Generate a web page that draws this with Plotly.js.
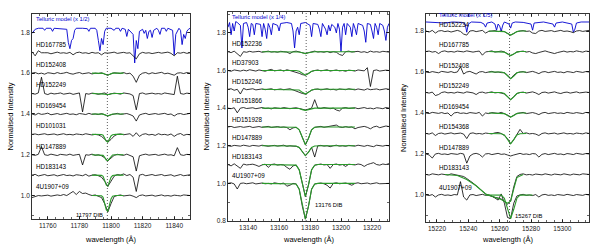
<!DOCTYPE html>
<html><head><meta charset="utf-8">
<script src="https://cdn.plot.ly/plotly-3.0.1.min.js"></script>
<style>html,body{margin:0;padding:0;background:#fff}</style>
</head><body><div id="chart" style="width:600px;height:246px"></div>
<script>
// ---------------- Panel 1 : 11797 DIB ----------------
const p1Wave = [11750,11752,11754,11756,11758,11760,11762,11764,11766,11768,
 11770,11772,11774,11776,11778,11780,11782,11784,11786,11788,
 11790,11792,11794,11796,11798,11800,11802,11804,11806,11808,
 11810,11812,11814,11816,11818,11820,11822,11824,11826,11828,
 11830,11832,11834,11836,11838,11840,11842,11844,11846,11848,
 11850];
const p1Names = ['HD167785','HD152408','HD152249','HD169454','HD101031','HD147889','HD183143','4U1907+09'];
const p1Offsets = [0.7,0.6,0.5,0.4,0.3,0.2,0.1,0.0];
const p1Star1 = [1.005,0.985,1.01,1.0,1.0,1.0,0.995,1.0,1.003,0.998,
 1.0,0.997,1.002,0.99,1.0,1.003,0.998,1.0,0.996,1.002,
 0.998,1.0,0.99,1.0,0.998,1.0,1.003,0.997,1.0,1.002,
 0.998,1.0,0.985,0.97,0.995,1.002,0.998,1.0,0.996,1.0,
 1.002,0.998,1.0,1.003,0.997,0.985,1.0,0.998,1.002,0.997,1.0];
const p1Star2 = [1.0,1.003,0.997,1.0,0.995,1.002,1.0,0.997,1.003,0.998,
 1.0,1.004,0.998,0.995,1.0,1.003,0.997,1.0,1.002,0.996,
 1.0,0.998,1.002,0.995,0.99,0.997,1.002,1.0,0.998,1.003,
 0.997,1.0,0.985,0.955,0.99,1.0,1.003,0.996,1.002,0.998,
 1.0,1.004,0.997,1.0,0.995,0.99,1.0,1.002,0.998,1.003,1.0];
const p1Star3 = [1.0,0.997,1.003,1.08,1.0,0.995,1.002,0.998,1.0,1.003,
 0.997,1.0,1.002,0.996,1.0,1.003,0.91,1.0,0.997,1.002,
 1.0,0.996,1.0,1.003,0.995,0.998,1.002,1.0,0.997,1.003,
 1.0,0.998,0.99,0.92,1.0,1.003,0.997,1.0,1.002,0.998,
 1.0,0.997,1.003,1.0,0.998,0.995,1.085,1.0,0.997,1.002,1.0];
const p1Star4 = [1.0,0.995,1.003,0.998,1.0,1.004,0.996,1.0,1.002,0.997,
 1.0,1.003,0.998,1.0,0.996,1.002,1.0,0.997,1.003,0.998,
 1.0,0.997,1.002,0.995,0.99,0.996,1.0,1.003,0.998,1.0,
 1.002,0.997,0.99,0.965,0.995,1.0,1.003,0.997,1.0,1.002,
 0.998,1.0,1.003,0.997,1.0,0.99,1.0,1.002,0.997,1.0,1.003];
const p1Star5 = [1.0,1.002,0.998,1.0,1.003,0.998,1.0,1.002,0.997,1.0,
 1.003,0.998,1.0,0.997,1.002,1.0,0.998,1.003,1.0,0.997,
 1.0,0.997,0.99,0.975,0.962,0.975,0.992,1.0,1.002,0.998,
 1.0,1.003,0.99,1.008,0.99,1.0,1.003,0.997,1.0,0.995,
 1.003,0.998,1.0,0.996,1.002,0.99,1.0,1.004,0.995,1.0,0.998];
const p1Star6 = [1.0,0.997,1.002,1.04,1.0,0.997,1.003,1.0,0.996,1.002,
 1.0,0.998,1.003,0.997,1.0,1.002,0.95,1.0,0.998,1.003,
 0.997,1.0,0.995,0.985,0.97,0.985,0.997,1.002,1.0,0.997,
 1.003,0.998,0.99,0.92,0.995,1.0,1.003,0.998,1.0,1.002,
 0.997,1.0,1.003,0.998,1.0,0.995,1.035,1.0,0.997,1.002,1.0];
const p1Star7 = [1.0,1.004,0.996,1.0,1.003,0.997,1.0,1.002,0.996,1.0,
 1.003,0.998,1.0,0.996,1.002,1.0,0.997,1.004,0.995,1.0,
 1.002,0.997,0.99,0.97,0.945,0.97,0.995,1.003,1.0,1.006,
 0.998,1.003,0.99,0.92,1.0,1.004,0.997,1.0,1.003,0.998,
 1.0,1.003,0.997,1.0,1.002,0.995,1.0,1.003,0.997,1.0,1.002];
const p1Star8 = [0.99,0.995,1.0,0.998,1.0,1.002,0.997,1.0,1.003,1.0,
 1.005,1.0,1.01,1.02,1.005,1.02,1.01,1.012,1.005,1.0,
 1.003,0.998,0.99,0.96,0.92,0.96,0.995,1.0,1.003,0.998,
 1.0,1.002,0.997,0.99,1.0,1.003,0.998,1.0,1.002,0.997,
 1.0,1.003,0.998,1.0,0.997,1.002,1.0,0.998,1.003,1.0,1.0];
const p1TellWave = [11750,11751,11752,11754,11757,11758,11759,11762,11763,11764,
 11768,11772,11773,11774,11775,11776,11777,11778,11782,11785,
 11786,11787,11790,11791,11792,11793,11794,11795,11796,11797,
 11800,11802,11803,11805,11806,11807,11809,11810,11811,11813,
 11814,11815,11816,11817,11818,11820,11821,11822,11823,11824,
 11825,11826,11827,11829,11830,11831,11832,11834,11835,11836,
 11839,11840,11841,11843,11844,11845,11846,11847,11848,11849,
 11850];
const p1TellFlux = [0.975,0.985,0.995,1.0,1.0,0.99,1.0,1.0,0.985,1.0,
 0.998,0.995,0.93,0.90,0.94,0.95,0.99,1.0,1.0,0.998,
 0.985,1.0,1.0,0.99,0.94,0.89,0.95,0.92,0.985,1.0,
 1.0,0.99,1.0,1.0,0.985,1.0,0.995,0.96,0.995,0.98,
 0.97,0.83,0.94,0.90,0.985,0.995,0.975,0.99,0.95,0.985,
 0.99,0.955,0.99,1.0,0.99,0.97,1.0,1.0,0.985,1.0,
 0.99,0.87,0.97,1.0,0.99,0.92,0.97,0.95,0.985,0.995,
 1.0];
const p1TellOffset = 0.82;
const p1FitWave = [11788,11792,11794,11795,11796,11797,11798,11799,11800,11801,11803,11808];
const p1Fit2 = [1,1,1,0.999,0.996,0.991,0.99,0.994,0.998,1,1,1];
const p1Fit3 = [1,1,1,0.999,0.997,0.995,0.994,0.996,0.999,1,1,1];
const p1Fit4 = [1,1,1,0.999,0.996,0.991,0.99,0.994,0.998,1,1,1];
const p1Fit5 = [1,1,0.999,0.996,0.984,0.967,0.963,0.977,0.992,0.998,1,1];
const p1Fit6 = [1,1,1,0.997,0.987,0.974,0.971,0.982,0.994,0.999,1,1];
const p1Fit7 = [1,1,0.999,0.994,0.977,0.952,0.946,0.967,0.989,0.998,1,1];
const p1Fit8 = [1,1,0.999,0.991,0.966,0.931,0.922,0.951,0.983,0.997,1,1];

// ---------------- Panel 2 : 13176 DIB ----------------
const p2Wave = [13127,13129,13131,13133,13135,13137,13139,13141,13143,13145,
 13147,13149,13151,13153,13155,13157,13159,13161,13163,13165,
 13167,13169,13171,13173,13175,13177,13179,13181,13183,13185,
 13187,13189,13191,13193,13195,13197,13199,13201,13203,13205,
 13207,13209,13211,13213,13215,13217,13219,13221,13223,13225,
 13227,13229,13231];
const p2Names = ['HD152236','HD37903','HD152246','HD151866','HD151928','HD147889','HD183143','4U1907+09'];
const p2Offsets = [0.7,0.6,0.5,0.4,0.3,0.2,0.1,0.0];
const p2Star1 = [1.0,0.995,1.003,0.99,0.975,1.0,0.997,1.002,0.998,1.0,
 1.002,0.997,1.0,1.003,0.998,1.0,0.997,1.002,1.0,0.998,
 0.99,1.0,1.003,0.998,0.995,0.99,0.995,1.0,1.003,0.998,
 1.0,0.997,1.002,0.995,1.0,0.997,0.985,0.98,1.0,1.003,
 0.998,1.0,1.002,0.997,1.0,0.995,1.003,0.998,1.0,0.997,1.002,1.0,0.998];
const p2Star2 = [1.0,0.996,1.003,1.0,0.997,1.002,0.998,1.004,1.0,0.997,
 1.003,1.0,0.996,1.002,1.006,0.998,1.0,1.003,0.997,1.004,
 1.0,0.996,0.99,0.985,0.978,0.975,0.985,0.995,1.0,1.003,
 0.998,1.0,1.004,0.997,1.0,1.003,0.998,1.0,0.996,1.002,
 1.0,0.997,1.003,1.0,0.998,1.015,0.915,1.0,1.003,0.997,1.0,1.002,1.0];
const p2Star3 = [1.0,1.003,0.995,1.0,0.975,1.005,0.998,1.0,1.003,0.997,
 1.0,1.002,0.998,1.0,1.003,0.997,1.0,1.002,0.998,1.0,
 1.003,0.997,0.99,0.985,0.978,0.975,0.985,0.995,1.0,1.002,
 0.997,1.0,1.003,0.998,1.0,0.996,1.002,1.0,0.998,1.003,
 1.0,0.997,1.002,1.0,0.996,1.003,0.998,1.0,1.002,0.997,1.0,1.003,1.0];
const p2Star4 = [1.0,0.997,1.002,0.975,1.0,1.003,0.998,1.0,1.002,0.997,
 1.0,1.003,0.998,1.0,0.996,1.002,1.0,0.998,1.003,1.0,
 0.997,1.0,1.002,0.998,0.995,0.99,0.995,1.0,1.045,1.0,
 0.998,1.003,1.0,0.997,1.0,0.99,0.985,1.0,1.003,0.998,
 1.0,1.002,0.997,1.0,1.003,0.998,1.0,0.996,1.002,1.0,0.997,1.003,1.0];
const p2Star5 = [1.0,1.003,0.997,1.0,1.002,0.998,1.0,1.003,0.997,1.0,
 1.002,0.998,1.0,1.003,0.997,1.0,1.002,0.998,1.0,0.997,
 0.985,0.995,0.998,0.985,0.94,0.905,0.94,0.985,0.998,1.0,
 1.003,0.998,1.0,1.002,1.006,1.01,1.0,0.997,1.002,0.998,
 1.0,0.99,0.997,1.0,1.003,0.998,0.99,1.0,1.004,0.996,1.0,1.005,1.002];
const p2Star6 = [1.0,0.997,1.002,1.0,0.998,1.003,1.0,0.997,1.002,1.0,
 0.998,1.003,1.0,0.997,1.0,1.002,0.998,1.0,1.003,0.997,
 1.0,0.998,0.997,0.991,0.966,0.947,0.966,0.991,0.94,1.0,
 1.002,0.998,1.0,0.995,1.0,1.003,0.998,1.0,0.997,1.002,
 1.0,0.998,1.003,1.0,0.997,1.002,1.0,0.995,1.003,1.0,0.998,1.002,1.0];
const p2Star7 = [1.0,0.993,1.004,0.99,0.98,1.003,0.998,1.0,1.002,0.997,
 0.99,0.998,1.002,0.985,1.0,1.003,0.997,1.0,0.998,0.985,
 0.975,0.993,0.997,0.972,0.892,0.83,0.892,0.972,0.997,1.0,
 1.003,0.998,1.0,0.98,1.0,1.003,0.997,1.0,0.99,1.002,
 1.0,0.998,1.003,1.0,0.99,1.0,1.005,1.01,1.0,0.997,1.003,1.0,1.005];
const p2Star8 = [1.0,1.003,0.997,0.97,1.0,1.002,0.998,1.0,1.003,0.997,
 1.0,1.002,0.998,1.0,0.997,1.003,1.0,0.998,1.002,0.985,
 0.99,1.0,0.997,0.969,0.879,0.81,0.879,0.969,0.997,1.0,
 1.002,0.998,0.99,0.975,1.0,1.003,0.998,1.0,1.002,0.997,
 0.99,1.0,1.003,0.998,1.0,1.002,0.997,1.0,1.003,0.998,1.0,1.002,1.0];
const p2TellWave = [13127,13128,13129,13130,13131,13132,13133,13135,13136,13137,
 13139,13140,13141,13142,13143,13144,13145,13148,13149,13150,
 13151,13152,13153,13154,13155,13156,13159,13160,13161,13165,
 13168,13169,13170,13171,13172,13173,13174,13177,13180,13181,
 13182,13185,13186,13187,13188,13190,13191,13192,13193,13194,
 13196,13197,13198,13199,13200,13201,13202,13203,13204,13206,
 13207,13208,13209,13210,13211,13214,13215,13216,13217,13219,
 13220,13221,13222,13223,13224,13225,13227,13228,13229,13230,
 13231];
const p2TellFlux = [0.97,0.995,0.93,0.99,0.95,1.0,0.995,0.98,0.86,0.99,
 0.995,0.97,0.92,0.99,0.985,0.93,0.99,0.985,0.92,0.99,
 0.96,0.91,0.99,0.97,0.93,0.99,0.98,0.95,0.99,0.995,
 0.99,0.95,0.86,0.95,0.97,0.93,0.99,0.995,0.98,0.92,
 0.99,0.985,0.96,0.92,0.99,0.96,0.93,0.98,0.95,0.985,
 0.97,0.94,0.99,0.96,0.84,0.97,0.99,0.93,0.99,0.97,
 0.92,0.99,0.965,0.93,0.99,0.98,0.95,0.89,0.99,0.985,
 0.95,0.91,0.99,0.97,0.93,0.99,0.98,0.95,0.90,0.97,
 0.99];
const p2TellOffset = 0.86;
const p2FitWave = [13149,13165,13169,13171,13173,13175,13177,13179,13181,13183,13185,13189,13209];
const p2Fit1 = [1,1,1,1,0.998,0.994,0.99,0.994,0.998,1,1,1,1];
const p2Fit2 = [1,1,1,1,0.996,0.984,0.975,0.984,0.996,1,1,1,1];
const p2Fit3 = [1,1,1,1,0.996,0.984,0.975,0.984,0.996,1,1,1,1];
const p2Fit4 = [1,1,1,1,0.998,0.992,0.988,0.992,0.998,1,1,1,1];
const p2Fit5 = [1,1,1,0.998,0.985,0.94,0.905,0.94,0.985,0.998,1,1,1];
const p2Fit6 = [1,1,1,0.999,0.991,0.966,0.947,0.966,0.991,0.999,1,1,1];
const p2Fit7 = [1,1,1,0.997,0.972,0.892,0.83,0.892,0.972,0.997,1,1,1];
const p2Fit8 = [1,1,1,0.997,0.969,0.879,0.81,0.879,0.969,0.997,1,1,1];

// ---------------- Panel 3 : 15267 DIB ----------------
const p3Wave = [15213,15215,15217,15219,15221,15223,15225,15227,15229,15231,
 15233,15235,15237,15239,15241,15243,15245,15247,15249,15251,
 15253,15255,15257,15259,15261,15263,15265,15267,15269,15271,
 15273,15275,15277,15279,15281,15283,15285,15287,15289,15291,
 15293,15295,15297,15299,15301,15303,15305,15307,15309,15311,
 15313,15315,15317];
const p3Names = ['HD152234','HD167785','HD152408','HD152249','HD169454','HD154368','HD147889','HD183143','4U1907+09'];
const p3Offsets = [0.8,0.7,0.6,0.5,0.4,0.3,0.2,0.1,0.0];
const p3Star1 = [1.0,0.995,1.003,0.99,1.0,1.002,0.997,1.0,0.995,1.0,
 1.003,0.998,0.985,0.98,1.0,1.002,0.997,1.0,1.003,0.99,
 0.998,1.0,1.002,0.997,1.0,0.997,0.988,0.98,0.988,0.997,
 1.0,1.002,0.998,1.0,0.99,0.988,1.0,1.003,0.998,1.0,
 1.002,0.997,1.0,1.003,0.998,1.0,0.997,0.992,1.0,1.002,0.998,1.0,1.003];
const p3Star2 = [1.0,1.002,0.997,1.0,0.99,1.0,1.003,0.998,1.0,0.997,
 1.002,1.0,0.998,1.003,1.0,0.997,1.0,1.002,0.982,0.998,
 1.0,1.003,0.997,1.0,1.002,0.998,0.988,0.98,0.988,0.998,
 1.0,1.002,0.997,1.0,0.993,0.99,0.995,1.0,1.003,0.998,
 0.995,0.99,0.995,1.0,1.002,0.997,1.0,0.998,1.003,1.0,0.997,1.002,1.0];
const p3Star3 = [1.0,0.997,1.002,1.0,0.996,1.003,1.0,0.998,1.002,0.997,
 1.0,1.025,0.99,1.0,1.003,0.998,0.99,1.0,1.002,0.997,
 1.0,1.003,0.998,1.0,0.997,0.996,0.985,0.967,0.985,0.996,
 1.0,1.002,0.997,1.0,1.003,0.998,0.992,1.0,1.002,0.997,
 1.0,1.003,0.998,1.0,0.996,1.002,1.0,0.997,1.003,1.0,0.998,1.002,1.0];
const p3Star4 = [1.0,0.997,1.002,0.985,0.99,1.0,1.003,0.998,1.0,0.997,
 1.002,1.0,0.997,1.003,1.0,0.998,0.99,1.0,1.002,0.997,
 1.0,1.003,0.998,1.0,0.997,0.993,0.98,0.965,0.98,0.995,
 1.0,1.002,0.997,1.0,1.003,0.998,0.99,1.0,1.002,0.997,
 1.0,1.003,0.998,0.995,1.0,1.002,0.997,1.0,1.003,0.998,1.0,1.002,1.0];
const p3Star5 = [1.0,0.997,1.003,1.0,0.998,1.002,0.997,1.0,0.985,1.0,
 1.003,0.998,1.0,0.997,1.002,1.0,0.998,1.003,0.985,1.0,
 0.997,1.002,1.0,0.998,1.003,0.997,0.99,0.98,0.99,0.998,
 1.0,1.003,0.997,1.0,1.002,0.998,0.992,1.0,1.003,0.997,
 1.0,1.002,0.998,1.0,0.997,1.003,1.0,0.998,1.002,1.0,0.997,1.003,1.0];
const p3Star6 = [1.0,0.997,1.003,0.99,1.0,1.002,0.997,1.0,1.003,0.998,
 1.0,1.002,0.997,0.975,1.0,1.003,0.998,1.0,0.997,1.002,
 1.0,0.998,1.003,1.005,1.0,0.99,0.975,0.95,0.97,0.995,
 1.02,1.0,1.003,0.998,1.0,0.997,0.99,1.0,1.003,0.998,
 1.0,1.002,0.997,1.0,1.003,0.998,1.0,0.997,1.002,1.0,0.998,1.003,1.0];
const p3Star7 = [1.0,0.995,0.98,1.0,1.003,0.998,1.0,0.997,1.002,1.0,
 0.998,1.003,1.0,0.955,0.99,1.0,1.003,0.998,0.985,1.0,
 1.002,0.997,1.0,1.003,0.998,1.0,0.995,0.99,0.995,1.0,
 1.003,0.998,1.0,0.997,1.002,1.0,0.985,0.998,1.002,0.997,
 1.0,1.003,0.998,1.0,0.996,1.002,1.0,0.997,1.003,1.0,0.998,1.002,1.0];
const p3Star8 = [1.0,0.997,1.003,1.0,0.998,1.002,1.0,0.997,1.003,1.0,
 0.998,0.995,0.99,0.98,0.97,0.958,0.945,0.93,0.918,0.905,
 0.898,0.892,0.888,0.885,0.88,0.87,0.855,0.87,0.94,0.99,
 1.0,1.003,0.998,1.0,0.997,1.002,1.0,0.998,1.003,1.0,
 0.997,1.002,1.0,0.998,1.003,1.0,0.997,1.002,1.0,0.998,1.003,1.0,1.0];
const p3Star9 = [1.0,0.997,1.002,0.99,1.0,1.003,0.998,1.0,0.997,1.002,
 1.0,1.065,0.99,0.975,1.0,1.002,0.997,1.0,1.003,0.998,
 1.0,0.995,0.985,0.975,1.005,0.96,0.89,0.885,0.96,0.995,
 1.0,1.003,0.998,1.0,0.997,1.002,0.99,1.0,1.003,0.998,
 1.0,0.997,1.002,1.0,0.998,1.003,1.0,0.997,1.002,1.0,0.998,1.003,1.0];
const p3TellWave = [15213,15220,15225,15230,15236,15238,15239,15240,15242,15248,
 15250,15251,15252,15255,15257,15258,15259,15260,15261,15262,
 15263,15266,15267,15268,15270,15275,15280,15281,15282,15288,
 15294,15295,15296,15300,15306,15307,15308,15309,15312,15317];
const p3TellFlux = [1.0,0.998,0.995,1.0,0.998,0.99,0.95,0.99,1.0,0.998,
 0.99,0.975,0.995,1.0,0.99,0.96,0.99,0.98,0.955,0.985,
 1.0,0.99,0.97,0.995,1.0,0.998,0.99,0.96,0.995,1.0,
 0.99,0.975,0.995,1.0,0.99,0.95,0.965,0.995,1.0,1.0];
const p3TellOffset = 0.844;
const p3FitWave = [15253,15259,15261,15263,15265,15267,15269,15271,15273,15277];
const p3Fit1 = [1,1,1,0.997,0.988,0.98,0.988,0.997,1,1];
const p3Fit2 = [1,1,1,0.997,0.988,0.98,0.988,0.997,1,1];
const p3Fit3 = [1,1,1,0.996,0.98,0.967,0.98,0.996,1,1];
const p3Fit4 = [1,1,1,0.995,0.979,0.965,0.979,0.995,1,1];
const p3Fit5 = [1,1,1,0.997,0.988,0.98,0.988,0.997,1,1];
const p3Fit6 = [1,1,0.999,0.993,0.97,0.95,0.97,0.993,0.999,1];
const p3Fit8Wave = [15225,15233,15239,15245,15251,15257,15261,15265,15267,15269,15271,15275];
const p3Fit8 = [1.0,0.995,0.975,0.945,0.905,0.888,0.878,0.86,0.87,0.93,0.985,1.0];
const p3Fit9Wave = [15251,15259,15261,15263,15265,15267,15269,15271,15273,15281];
const p3Fit9 = [1,1,0.999,0.984,0.93,0.885,0.93,0.984,0.999,1];

// ---------------- assemble ----------------
const FONT = 'Liberation Sans, Arial, sans-serif';
const panels = [
 {ax:'', wave:p1Wave, names:p1Names, offsets:p1Offsets,
  stars:[p1Star1,p1Star2,p1Star3,p1Star4,p1Star5,p1Star6,p1Star7,p1Star8],
  tellWave:p1TellWave, tellFlux:p1TellFlux, tellOff:p1TellOffset,
  fits:[[1,p1FitWave,p1Fit2],[2,p1FitWave,p1Fit3],[3,p1FitWave,p1Fit4],[4,p1FitWave,p1Fit5],[5,p1FitWave,p1Fit6],[6,p1FitWave,p1Fit7],[7,p1FitWave,p1Fit8]],
  dib:11797.7, dibText:'11797 DIB', tellText:'Telluric model (x 1/2)',
  xr:[11750,11850], yr:[0.885,1.89], xd:[32/600,190/600], yd:[(246-219)/246,(246-14)/246],
  xt:[11760,11780,11800,11820,11840], yt:[1.0,1.2,1.4,1.6,1.8],
  labelX:11751.5, labelDy:1.042, tellLabelY:1.0, dibLab:{x:11796,y:0.905,anchor:'right'}},
 {ax:'2', wave:p2Wave, names:p2Names, offsets:p2Offsets,
  stars:[p2Star1,p2Star2,p2Star3,p2Star4,p2Star5,p2Star6,p2Star7,p2Star8],
  tellWave:p2TellWave, tellFlux:p2TellFlux, tellOff:p2TellOffset,
  fits:[[0,p2FitWave,p2Fit1],[1,p2FitWave,p2Fit2],[2,p2FitWave,p2Fit3],[3,p2FitWave,p2Fit4],[4,p2FitWave,p2Fit5],[5,p2FitWave,p2Fit6],[6,p2FitWave,p2Fit7],[7,p2FitWave,p2Fit8]],
  dib:13177.5, dibText:'13176 DIB', tellText:'Telluric model (x 1/4)',
  xr:[13127,13231], yr:[0.8,1.911], xd:[228/600,389/600], yd:[(246-221)/246,(246-12)/246],
  xt:[13140,13160,13180,13200,13220], yt:[0.8,1.0,1.2,1.4,1.6,1.8],
  labelX:13128.5, labelDy:1.042, tellLabelY:1.0, dibLab:{x:13182,y:0.885,anchor:'left'}},
 {ax:'3', wave:p3Wave, names:p3Names, offsets:p3Offsets,
  stars:[p3Star1,p3Star2,p3Star3,p3Star4,p3Star5,p3Star6,p3Star7,p3Star8,p3Star9],
  tellWave:p3TellWave, tellFlux:p3TellFlux, tellOff:p3TellOffset,
  fits:[[0,p3FitWave,p3Fit1],[1,p3FitWave,p3Fit2],[2,p3FitWave,p3Fit3],[3,p3FitWave,p3Fit4],[4,p3FitWave,p3Fit5],[5,p3FitWave,p3Fit6],[7,p3Fit8Wave,p3Fit8],[8,p3Fit9Wave,p3Fit9]],
  dib:15266.3, dibText:'15267 DIB', tellText:'Telluric model (x 1/5)',
  xr:[15213,15317], yr:[0.868,1.883], xd:[426/600,589/600], yd:[(246-222)/246,(246-14)/246],
  xt:[15220,15240,15260,15280,15300], yt:[1.0,1.2,1.4,1.6,1.8],
  labelX:15220, labelDy:1.034, tellLabelY:1.018, dibLab:{x:15268.5,y:0.895,anchor:'left'}}
];

const traces = [], annotations = [], shapes = [];
const layout = {width:600, height:246, autosize:false, margin:{l:0,r:0,t:0,b:0},
  paper_bgcolor:'#fff', plot_bgcolor:'#fff', showlegend:false, font:{family:FONT,size:7,color:'#000'}};

panels.forEach(p => {
  const xa = 'x'+p.ax, ya = 'y'+p.ax;
  p.stars.forEach((s,i)=>{ if(s.length!==p.wave.length) throw new Error('len '+p.ax+' star '+i+' '+s.length); });
  if (p.tellWave.length!==p.tellFlux.length) throw new Error('tell len '+p.ax);
  p.fits.forEach(f=>{ if(f[1].length!==f[2].length) throw new Error('fit len '+p.ax+' '+f[0]); });
  traces.push({x:p.tellWave, y:p.tellFlux.map(v=>v+p.tellOff), xaxis:xa, yaxis:ya, mode:'lines',
    line:{color:'#0000d0', width:0.9}, hoverinfo:'skip'});
  p.stars.forEach((s,i)=>{
    traces.push({x:p.wave, y:s.map(v=>v+p.offsets[i]), xaxis:xa, yaxis:ya, mode:'lines',
      line:{color:'#000', width:0.8}, hoverinfo:'skip'});
  });
  p.fits.forEach(f=>{
    const off = p.offsets[f[0]];
    traces.push({x:f[1], y:f[2].map(v=>v+off), xaxis:xa, yaxis:ya, mode:'lines',
      line:{color:'#2a9a2a', width:1.1}, hoverinfo:'skip'});
  });
  p.names.forEach((n,i)=>{
    annotations.push({xref:xa, yref:ya, x:p.labelX, y:p.offsets[i]+p.labelDy, text:n, showarrow:false,
      xanchor:'left', yanchor:'middle', font:{family:FONT, size:6.3, color:'#000'}});
  });
  annotations.push({xref:xa, yref:'y'+p.ax+' domain', x:p.labelX, y:p.tellLabelY, text:p.tellText, showarrow:false,
    xanchor:'left', yanchor:'top', font:{family:FONT, size:5.8, color:'#0000d0'}});
  annotations.push({xref:xa, yref:ya, x:p.dibLab.x, y:p.dibLab.y, text:p.dibText, showarrow:false,
    xanchor:p.dibLab.anchor, yanchor:'middle', font:{family:FONT, size:5.8, color:'#000'}});
  shapes.push({type:'line', xref:xa, yref:'y'+p.ax+' domain', x0:p.dib, x1:p.dib, y0:0, y1:1,
    line:{color:'#333', width:0.8, dash:'1px,2px'}});
  annotations.push({xref:'paper', yref:'paper', x:(p.xd[0]+p.xd[1])/2, y:(246-239)/246, text:'wavelength (Å)',
    showarrow:false, xanchor:'center', yanchor:'middle', font:{family:FONT, size:7.5, color:'#000'}});
  annotations.push({xref:'paper', yref:'paper', x:p.xd[0]-22/600, y:(p.yd[0]+p.yd[1])/2, text:'Normalised Intensity',
    textangle:-90, showarrow:false, xanchor:'center', yanchor:'middle', font:{family:FONT, size:7.5, color:'#000'}});
  const common = {showline:true, mirror:'ticks', linecolor:'#000', linewidth:0.8, ticks:'inside', ticklen:3,
    tickwidth:0.7, tickcolor:'#000', showgrid:false, zeroline:false, fixedrange:true,
    tickfont:{family:FONT, size:6.5, color:'#222'}};
  layout['xaxis'+p.ax] = Object.assign({}, common, {domain:p.xd, range:p.xr, anchor:ya, tickmode:'array',
    tickvals:p.xt, ticktext:p.xt.map(String), minor:{ticks:'inside', ticklen:2, dtick:5, tick0:p.xt[0], tickcolor:'#000', tickwidth:0.6}});
  layout['yaxis'+p.ax] = Object.assign({}, common, {domain:p.yd, range:p.yr, anchor:xa, tickmode:'array',
    tickvals:p.yt, ticktext:p.yt.map(v=>v.toFixed(1)), minor:{ticks:'inside', ticklen:2, dtick:0.1, tick0:0, tickcolor:'#000', tickwidth:0.6}});
});
layout.annotations = annotations;
layout.shapes = shapes;
Plotly.newPlot('chart', traces, layout, {staticPlot:true, displayModeBar:false});
</script></body></html>
